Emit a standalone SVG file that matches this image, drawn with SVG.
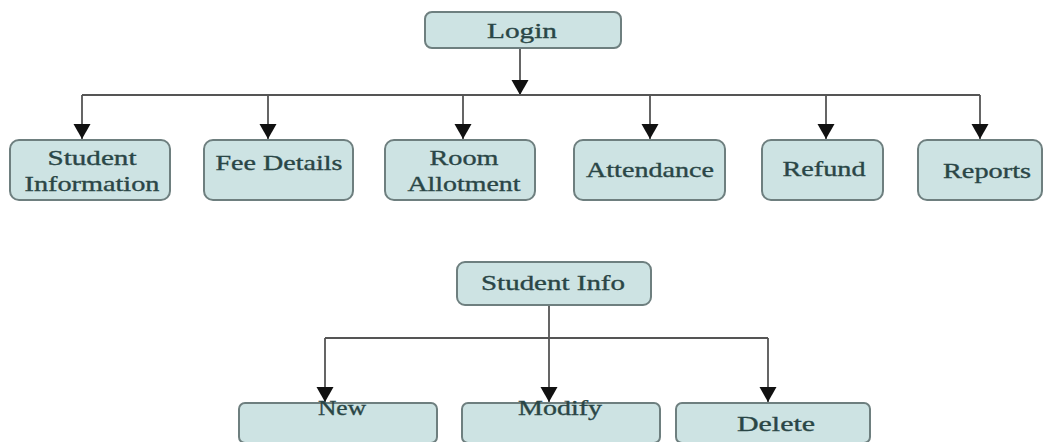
<svg xmlns="http://www.w3.org/2000/svg" width="1045" height="442" viewBox="0 0 1045 442">
<style>
.box{fill:#cde3e3;stroke:#6e7f7f;stroke-width:2}
.t{font-family:"Liberation Serif","Times New Roman",serif;font-size:21px;fill:#2a4646;stroke:#2a4646;stroke-width:0.35;text-anchor:middle}
.c{fill:none;stroke:#555;stroke-width:1.8}
</style>
<defs>
<marker id="ah" markerUnits="userSpaceOnUse" markerWidth="18" markerHeight="18" refX="15" refY="8.5" orient="auto">
<path d="M0,0 L15,8.5 L0,17 Z" fill="#111"/>
</marker>
</defs>
<rect width="1045" height="442" fill="#fff"/>
<g id="connectors">
<line class="c" x1="520" y1="48" x2="520" y2="95" marker-end="url(#ah)"/>
<line class="c" x1="82" y1="95" x2="980" y2="95"/>
<line class="c" x1="82" y1="95" x2="82" y2="139" marker-end="url(#ah)"/>
<line class="c" x1="268" y1="95" x2="268" y2="139" marker-end="url(#ah)"/>
<line class="c" x1="463" y1="95" x2="463" y2="139" marker-end="url(#ah)"/>
<line class="c" x1="650" y1="95" x2="650" y2="139" marker-end="url(#ah)"/>
<line class="c" x1="826" y1="95" x2="826" y2="139" marker-end="url(#ah)"/>
<line class="c" x1="980" y1="95" x2="980" y2="139" marker-end="url(#ah)"/>
<line class="c" x1="549" y1="305" x2="549" y2="402" marker-end="url(#ah)"/>
<line class="c" x1="325" y1="338" x2="768" y2="338"/>
<line class="c" x1="325" y1="338" x2="325" y2="402" marker-end="url(#ah)"/>
<line class="c" x1="768" y1="338" x2="768" y2="402" marker-end="url(#ah)"/>
</g>
<g id="login"><rect class="box" x="425" y="12" width="196" height="36" rx="7"/><text class="t" x="522" y="38" textLength="70" lengthAdjust="spacingAndGlyphs">Login</text></g>
<g id="student-information"><rect class="box" x="10" y="140" width="160" height="60" rx="9"/><text class="t" x="92" y="165" textLength="89" lengthAdjust="spacingAndGlyphs">Student</text><text class="t" x="92" y="191" textLength="135" lengthAdjust="spacingAndGlyphs">Information</text></g>
<g id="fee-details"><rect class="box" x="204" y="140" width="149" height="60" rx="9"/><text class="t" x="279" y="170" textLength="127" lengthAdjust="spacingAndGlyphs">Fee Details</text></g>
<g id="room-allotment"><rect class="box" x="385" y="140" width="150" height="60" rx="9"/><text class="t" x="464" y="165" textLength="69" lengthAdjust="spacingAndGlyphs">Room</text><text class="t" x="464" y="191" textLength="113" lengthAdjust="spacingAndGlyphs">Allotment</text></g>
<g id="attendance"><rect class="box" x="574" y="140" width="151" height="60" rx="9"/><text class="t" x="650" y="177" textLength="128" lengthAdjust="spacingAndGlyphs">Attendance</text></g>
<g id="refund"><rect class="box" x="762" y="140" width="121" height="60" rx="9"/><text class="t" x="824" y="176" textLength="83" lengthAdjust="spacingAndGlyphs">Refund</text></g>
<g id="reports"><rect class="box" x="918" y="140" width="124" height="60" rx="9"/><text class="t" x="987" y="178" textLength="88" lengthAdjust="spacingAndGlyphs">Reports</text></g>
<g id="student-info"><rect class="box" x="457" y="262" width="194" height="43" rx="8"/><text class="t" x="553" y="290" textLength="144" lengthAdjust="spacingAndGlyphs">Student Info</text></g>
<g id="new"><rect class="box" x="239" y="403" width="198" height="40" rx="6"/><text class="t" x="342" y="415" textLength="48" lengthAdjust="spacingAndGlyphs">New</text></g>
<g id="modify"><rect class="box" x="462" y="403" width="198" height="40" rx="6"/><text class="t" x="560" y="415" textLength="84" lengthAdjust="spacingAndGlyphs">Modify</text></g>
<g id="delete"><rect class="box" x="676" y="403" width="194" height="40" rx="6"/><text class="t" x="776" y="431" textLength="78" lengthAdjust="spacingAndGlyphs">Delete</text></g>
</svg>
